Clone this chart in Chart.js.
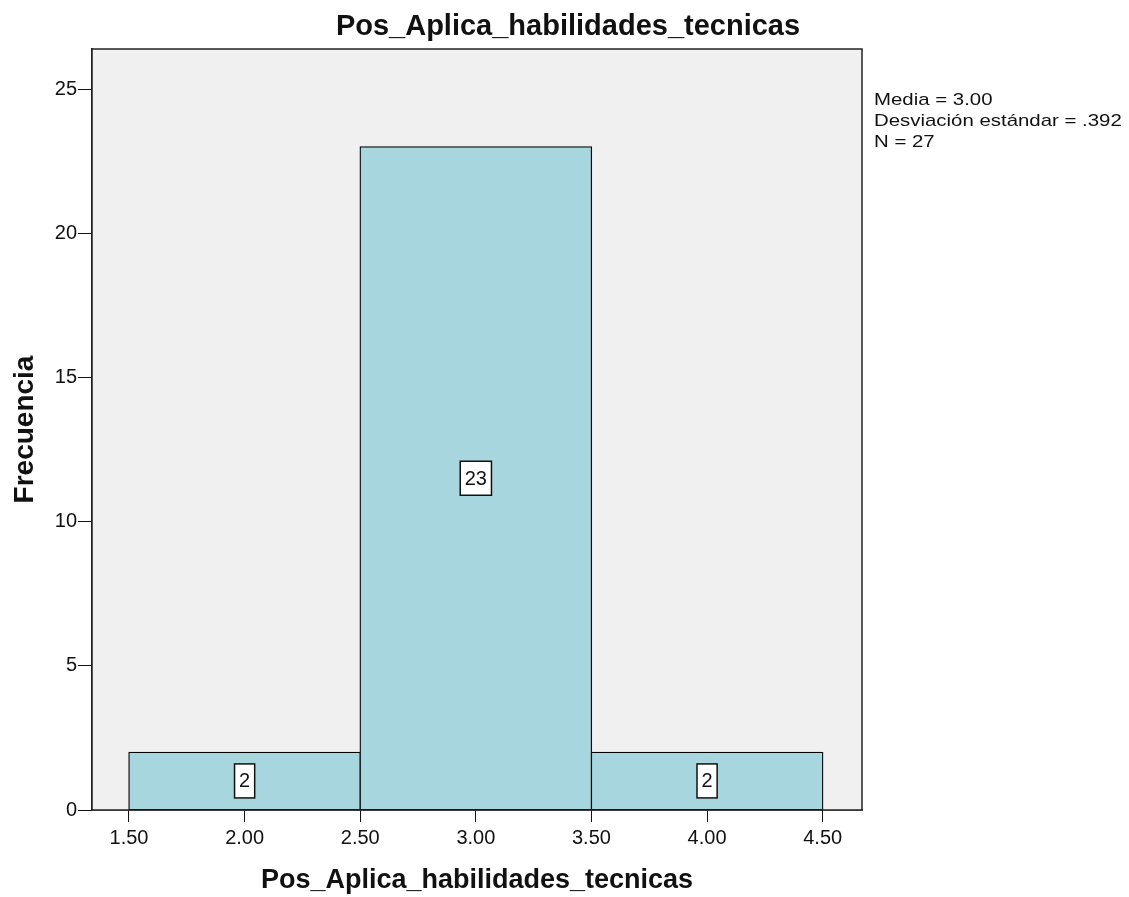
<!DOCTYPE html>
<html>
<head>
<meta charset="utf-8">
<script src="https://cdn.jsdelivr.net/npm/chart.js@4"></script>
<style>
  html, body { margin: 0; padding: 0; background: #fff; }
  #wrap { width: 1129px; height: 897px; }
</style>
</head>
<body>
<div id="wrap"><canvas id="histChart" width="1129" height="897"></canvas></div>
<script>
const chartTitle = 'Pos_Aplica_habilidades_tecnicas'
const xTitle = 'Pos_Aplica_habilidades_tecnicas'
const yTitle = 'Frecuencia'
const binCenters = [2.0, 3.0, 4.0]
const frequencies = [2, 23, 2]
const xTicks = [1.5, 2.0, 2.5, 3.0, 3.5, 4.0, 4.5]
const yTicks = [0, 5, 10, 15, 20, 25]
const statsLines = ['Media = 3.00', 'Desviación estándar = .392', 'N = 27']

const font = '"Liberation Sans", Arial, sans-serif'

// plot background, frame, titles, stats and the boxed counts
const decor = {
  id: 'decor',
  beforeDatasetsDraw(chart) {
    const { ctx, chartArea: a } = chart
    ctx.save()
    ctx.fillStyle = '#f0f0f0'
    ctx.fillRect(a.left, a.top, a.right - a.left, a.bottom - a.top)
    ctx.restore()
  },
  afterDatasetsDraw(chart) {
    const { ctx, chartArea: a } = chart
    ctx.save()
    ctx.strokeStyle = '#222'
    ctx.lineWidth = 1.5
    ctx.strokeRect(a.left, a.top, a.right - a.left, a.bottom - a.top)

    // value boxes
    const meta = chart.getDatasetMeta(0)
    ctx.font = '20px ' + font
    ctx.textAlign = 'center'
    ctx.textBaseline = 'middle'
    meta.data.forEach((bar, i) => {
      const txt = String(frequencies[i])
      const cy = (bar.y + bar.base) / 2
      const w = ctx.measureText(txt).width + 9
      const h = 34
      ctx.fillStyle = '#fff'
      ctx.fillRect(bar.x - w / 2, cy - h / 2, w, h)
      ctx.strokeStyle = '#111'
      ctx.lineWidth = 1.5
      ctx.strokeRect(bar.x - w / 2, cy - h / 2, w, h)
      ctx.fillStyle = '#111'
      ctx.fillText(txt, bar.x, cy + 1)
    })

    // titles
    ctx.fillStyle = '#111'
    ctx.textAlign = 'center'
    ctx.textBaseline = 'middle'
    ctx.font = 'bold 29px ' + font
    ctx.fillText(chartTitle, 568, 27)
    ctx.font = 'bold 27px ' + font
    ctx.fillText(xTitle, (a.left + a.right) / 2, 881)
    ctx.save()
    ctx.font = 'bold 28px ' + font
    ctx.translate(25, (a.top + a.bottom) / 2)
    ctx.rotate(-Math.PI / 2)
    ctx.fillText(yTitle, 0, 0)
    ctx.restore()

    // stats
    ctx.save()
    ctx.font = '17px ' + font
    ctx.textAlign = 'left'
    ctx.textBaseline = 'middle'
    ctx.translate(874, 0)
    ctx.scale(1.2, 1)
    statsLines.forEach((s, i) => ctx.fillText(s, 0, 100 + i * 21))
    ctx.restore()
    ctx.restore()
  }
}

const ctx = document.getElementById('histChart').getContext('2d')
new Chart(ctx, {
  type: 'bar',
  data: {
    datasets: [{
      data: binCenters.map((x, i) => ({ x: x, y: frequencies[i] })),
      backgroundColor: '#a8d6de',
      borderColor: '#000',
      borderWidth: 1.3,
      borderSkipped: false,
      inflateAmount: 0.7,
      // ruler spacing follows the 0.5 ticks, so double it to fill each bin
      barPercentage: 2,
      categoryPercentage: 1
    }]
  },
  options: {
    responsive: false,
    animation: false,
    layout: { padding: { top: 49, right: 267, bottom: 0, left: 0 } },
    plugins: { legend: { display: false }, tooltip: { enabled: false } },
    scales: {
      x: {
        type: 'linear',
        min: 1.34,
        max: 4.67,
        offset: false,
        afterFit(scale) { scale.height = 87 },
        afterBuildTicks(scale) { scale.ticks = xTicks.map(v => ({ value: v })) },
        grid: { offset: false, drawOnChartArea: false, drawTicks: true, tickLength: 12, color: '#111' },
        border: { display: true, color: '#111', width: 1.5 },
        ticks: {
          padding: 4,
          color: '#111',
          font: { family: font, size: 20 },
          maxRotation: 0,
          autoSkip: false,
          callback: v => Number(v).toFixed(2)
        }
      },
      y: {
        min: 0,
        max: 26.4,
        afterFit(scale) { scale.width = 92 },
        afterBuildTicks(scale) { scale.ticks = yTicks.map(v => ({ value: v })) },
        grid: { drawOnChartArea: false, drawTicks: true, tickLength: 14, color: '#111' },
        border: { display: true, color: '#111', width: 1.5 },
        ticks: {
          padding: 1,
          color: '#111',
          font: { family: font, size: 20 },
          autoSkip: false
        }
      }
    }
  },
  plugins: [decor]
})
</script>
</body>
</html>
